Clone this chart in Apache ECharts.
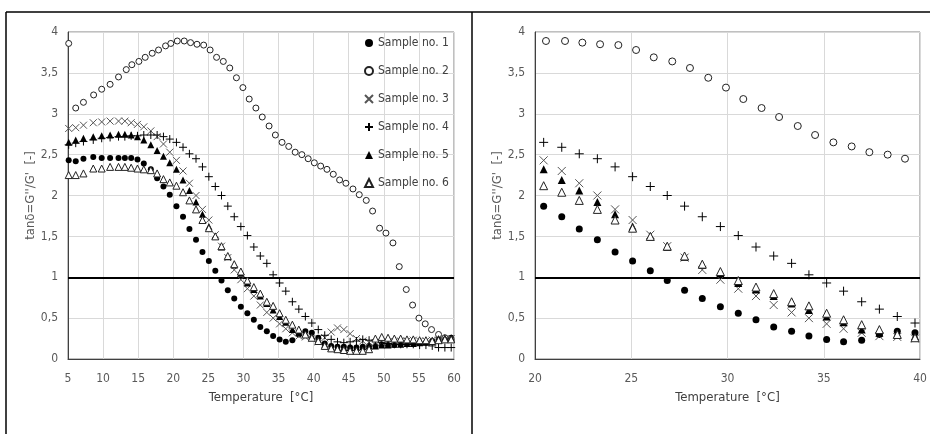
<!DOCTYPE html>
<html><head><meta charset="utf-8">
<script src="https://cdn.jsdelivr.net/npm/echarts@6/dist/echarts.min.js"></script>
<style>html,body{margin:0;padding:0;background:#fff}#c{width:930px;height:434px}</style>
</head><body><div id="c"></div>
<script>
// Temperature grid (°C) shared by samples 1,3,4,5,6
const T = [5.1, 6.1, 7.2, 8.6, 9.8, 11.0, 12.2, 13.1, 14.0, 14.9, 15.8, 16.8, 17.7, 18.6, 19.5,
  20.45, 21.39, 22.3, 23.24, 24.16, 25.07, 25.99, 26.87, 27.77, 28.69, 29.63, 30.56, 31.48, 32.4, 33.33, 34.23, 35.15, 36.03, 36.97, 37.89, 38.82, 39.74,
  40.66, 41.58, 42.5, 43.4, 44.3, 45.2, 46.1, 47.0, 47.9, 48.8, 49.7, 50.6, 51.5, 52.4, 53.3, 54.2, 55.1, 56.0, 56.9, 57.8, 58.7, 59.6];
// Temperature grid (°C) of sample 2
const T2 = [5.1, 6.1, 7.2, 8.65, 9.8, 11.0, 12.2, 13.3, 14.1, 15.1, 16.0, 17.0, 17.9, 18.9, 19.65,
  20.57, 21.56, 22.46, 23.38, 24.33, 25.25, 26.17, 27.13, 28.05, 29.0, 29.92, 30.82, 31.77, 32.68, 33.65, 34.55, 35.5, 36.45, 37.37, 38.32, 39.22,
  40.1, 41.0, 41.9, 42.8, 43.7, 44.6, 45.6, 46.5, 47.5, 48.4, 49.4, 50.3, 51.3, 52.2, 53.2, 54.1, 55.0, 55.9, 56.8, 57.8, 58.7, 59.6];

const sample1 = [2.43, 2.42, 2.45, 2.47, 2.46, 2.46, 2.46, 2.46, 2.46, 2.44, 2.39, 2.32, 2.21, 2.11, 2.01,
  1.87, 1.74, 1.59, 1.46, 1.31, 1.20, 1.08, 0.96, 0.84, 0.74, 0.64, 0.56, 0.48, 0.39, 0.34, 0.28, 0.24, 0.21, 0.23, 0.30, 0.34, 0.32,
  0.26, 0.19, 0.16, 0.15, 0.15, 0.14, 0.14, 0.15, 0.16, 0.16, 0.17, 0.17, 0.17, 0.18, 0.19, 0.19, 0.20, 0.20, 0.22, 0.24, 0.25, 0.26];
const sample2 = [3.86, 3.07, 3.14, 3.23, 3.30, 3.36, 3.45, 3.54, 3.60, 3.64, 3.69, 3.74, 3.78, 3.83, 3.86,
  3.89, 3.89, 3.87, 3.85, 3.84, 3.78, 3.69, 3.64, 3.56, 3.44, 3.32, 3.18, 3.07, 2.96, 2.85, 2.74, 2.65, 2.60, 2.53, 2.50, 2.45,
  2.40, 2.36, 2.32, 2.26, 2.19, 2.15, 2.08, 2.01, 1.94, 1.81, 1.60, 1.54, 1.42, 1.13, 0.85, 0.66, 0.50, 0.43, 0.36, 0.30, 0.26, 0.24];
const sample3 = [2.82, 2.83, 2.86, 2.89, 2.90, 2.91, 2.91, 2.91, 2.89, 2.87, 2.84, 2.79, 2.72, 2.63, 2.53,
  2.43, 2.30, 2.15, 2.00, 1.83, 1.70, 1.52, 1.38, 1.24, 1.09, 0.97, 0.86, 0.77, 0.66, 0.57, 0.50, 0.43, 0.37, 0.32, 0.28, 0.27, 0.25,
  0.21, 0.26, 0.33, 0.38, 0.36, 0.31, 0.25, 0.22, 0.20, 0.20, 0.20, 0.21, 0.21, 0.22, 0.22, 0.23, 0.22, 0.22, 0.23, 0.23, 0.24, 0.25];
const sample4 = [2.62, 2.64, 2.66, 2.68, 2.70, 2.71, 2.72, 2.72, 2.73, 2.73, 2.74, 2.74, 2.74, 2.72, 2.69,
  2.65, 2.59, 2.51, 2.45, 2.35, 2.23, 2.11, 2.00, 1.87, 1.74, 1.62, 1.51, 1.37, 1.26, 1.17, 1.03, 0.93, 0.83, 0.70, 0.61, 0.52, 0.44,
  0.36, 0.29, 0.24, 0.21, 0.20, 0.21, 0.22, 0.24, 0.23, 0.22, 0.20, 0.19, 0.18, 0.18, 0.18, 0.18, 0.17, 0.17, 0.16, 0.14, 0.14, 0.14];
const sample5 = [2.65, 2.68, 2.70, 2.72, 2.73, 2.74, 2.75, 2.75, 2.74, 2.72, 2.68, 2.62, 2.55, 2.48, 2.40,
  2.32, 2.19, 2.06, 1.92, 1.77, 1.62, 1.50, 1.37, 1.25, 1.15, 1.05, 0.93, 0.85, 0.77, 0.68, 0.60, 0.52, 0.45, 0.36, 0.32, 0.31, 0.28,
  0.24, 0.18, 0.15, 0.14, 0.14, 0.14, 0.14, 0.15, 0.16, 0.16, 0.17, 0.17, 0.18, 0.18, 0.19, 0.19, 0.20, 0.21, 0.23, 0.25, 0.26, 0.26];
const sample6 = [2.25, 2.25, 2.27, 2.33, 2.33, 2.35, 2.35, 2.35, 2.34, 2.33, 2.32, 2.31, 2.27, 2.20, 2.16,
  2.12, 2.04, 1.94, 1.83, 1.70, 1.60, 1.50, 1.38, 1.26, 1.16, 1.07, 0.96, 0.88, 0.80, 0.70, 0.65, 0.56, 0.48, 0.42, 0.36, 0.30, 0.26,
  0.22, 0.16, 0.13, 0.12, 0.11, 0.10, 0.10, 0.10, 0.12, 0.25, 0.27, 0.26, 0.25, 0.25, 0.24, 0.24, 0.23, 0.23, 0.22, 0.23, 0.24, 0.24];

const seriesNames = ['Sample no. 1', 'Sample no. 2', 'Sample no. 3', 'Sample no. 4', 'Sample no. 5', 'Sample no. 6'];
const leftXTicks = {min: 5, max: 60, interval: 5};
const rightXTicks = {min: 20, max: 40, interval: 5};
const yTicks = {min: 0, max: 4, interval: 0.5};
const threshold = 1;

const FONT = "'Liberation Sans Narrow', 'DejaVu Sans Condensed', 'Liberation Sans', sans-serif";
const CROSS = 'path://M0,0L10,10M10,0L0,10';
const PLUS = 'path://M5,0L5,10M0,5L10,5';
const styles = [
  {symbol: 'circle', color: '#000', border: '#000', bw: 0, size: 6},
  {symbol: 'circle', color: '#fff', border: '#222', bw: 1, size: 6},
  {symbol: CROSS, color: '#555', border: '#555', bw: 1, size: 7},
  {symbol: PLUS, color: '#000', border: '#000', bw: 1, size: 8},
  {symbol: 'triangle', color: '#000', border: '#000', bw: 0, size: 7},
  {symbol: 'triangle', color: '#fff', border: '#222', bw: 1, size: 7}
];
const xs = [T, T2, T, T, T, T];
const ys = [sample1, sample2, sample3, sample4, sample5, sample6];

const chart = echarts.init(document.getElementById('c'), null, {renderer: 'canvas'});
const series = [];
[0, 1].forEach(g => {
  ys.forEach((vals, i) => {
    const st = styles[i];
    const s = {
      name: seriesNames[i], type: 'scatter', xAxisIndex: g, yAxisIndex: g, clip: true,
      data: vals.map((v, k) => [xs[i][k], v]),
      symbol: st.symbol, symbolSize: g === 0 ? st.size : st.size + 1,
      itemStyle: {color: st.color, borderColor: st.border, borderWidth: st.bw, opacity: 1},
      emphasis: {disabled: true}, z: 3
    };
    if (i === 0) {
      s.markLine = {silent: true, symbol: 'none', label: {show: false}, z: 2,
        lineStyle: {color: '#000', width: 2, type: 'solid'}, data: [{yAxis: threshold}]};
    }
    series.push(s);
  });
});

function xAxis(g, ticks) {
  return Object.assign({
    type: 'value', gridIndex: g,
    name: 'Temperature  [°C]', nameLocation: 'middle', nameGap: 32,
    nameTextStyle: {fontFamily: FONT, fontSize: 13, color: '#404040'},
    axisLine: {show: true, onZero: false, lineStyle: {color: '#404040', width: 1}},
    axisTick: {show: false},
    axisLabel: {margin: 14, fontFamily: FONT, fontSize: 12, color: '#595959'},
    splitLine: {show: true, lineStyle: {color: '#d9d9d9', width: 1}}
  }, ticks);
}
function yAxis(g) {
  return Object.assign({
    type: 'value', gridIndex: g,
    name: "tanδ=G''/G'  [-]", nameLocation: 'middle', nameGap: 28,
    nameTextStyle: {fontFamily: FONT, fontSize: 13, color: '#595959'},
    axisLine: {show: true, lineStyle: {color: '#404040', width: 1}},
    axisTick: {show: false},
    axisLabel: {margin: 10, fontFamily: FONT, fontSize: 12, color: '#595959',
      formatter: v => String(v).replace('.', ',')},
    splitLine: {show: true, lineStyle: {color: '#d9d9d9', width: 1}}
  }, yTicks);
}

chart.setOption({
  animation: false,
  backgroundColor: '#fff',
  grid: [
    {left: 68, top: 32, width: 386, height: 327, show: true, borderColor: '#808080', borderWidth: 1, backgroundColor: 'transparent'},
    {left: 535, top: 32, width: 385, height: 327, show: true, borderColor: '#808080', borderWidth: 1, backgroundColor: 'transparent'}
  ],
  xAxis: [xAxis(0, leftXTicks), xAxis(1, rightXTicks)],
  yAxis: [yAxis(0), yAxis(1)],
  legend: {
    data: seriesNames, orient: 'vertical', left: 364, top: 36, padding: 0,
    itemWidth: 8, itemHeight: 8, itemGap: 14,
    textStyle: {fontFamily: FONT, fontSize: 12, color: '#404040', lineHeight: 14},
    selectedMode: false
  },
  graphic: [
    {type: 'line', shape: {x1: 6, y1: 12, x2: 930, y2: 12}, style: {stroke: '#000', lineWidth: 1.5}},
    {type: 'line', shape: {x1: 6, y1: 12, x2: 6, y2: 434}, style: {stroke: '#000', lineWidth: 1.5}},
    {type: 'line', shape: {x1: 472, y1: 12, x2: 472, y2: 434}, style: {stroke: '#000', lineWidth: 1.5}}
  ],
  series: series
});
</script></body></html>
